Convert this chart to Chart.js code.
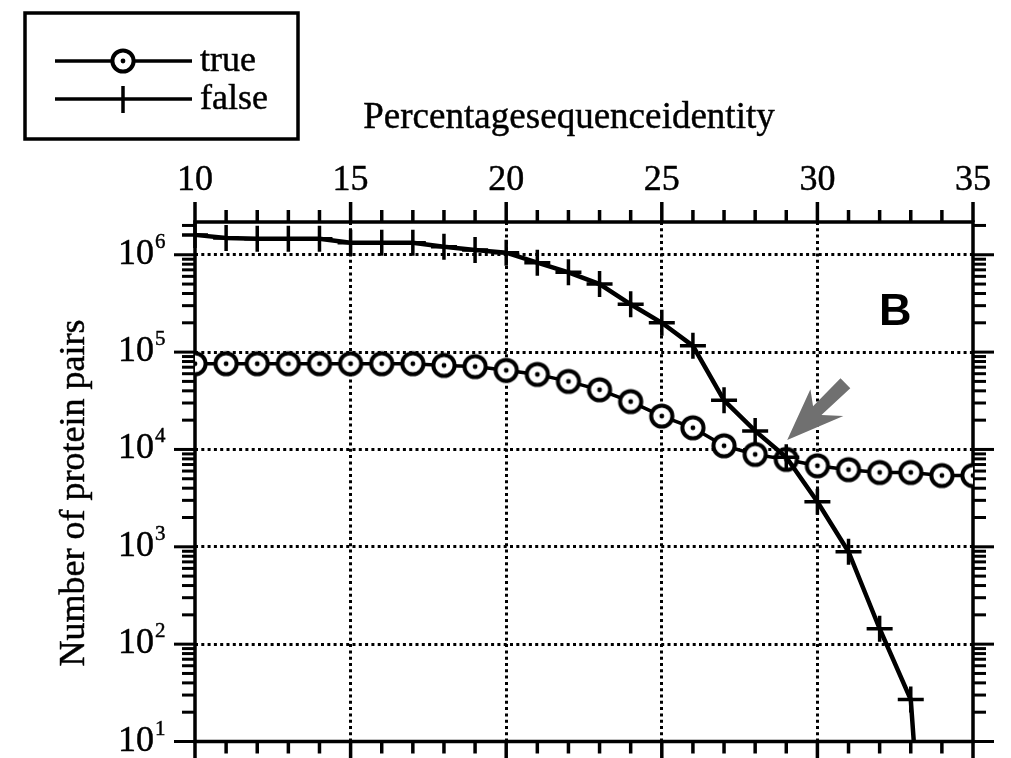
<!DOCTYPE html>
<html><head><meta charset="utf-8">
<script src="https://cdn.jsdelivr.net/npm/chart.js@4.4.1/dist/chart.umd.min.js"></script>
<style>html,body{margin:0;padding:0;background:#fff}canvas{display:block}</style>
</head><body>
<canvas id="c" width="1011" height="758"></canvas>
<script>
// ---- data ----
const identity    = [10,11,12,13,14,15,16,17,18,19,20,21,22,23,24,25,26,27,28,29,30,31,32,33,34,35];
const trueCounts  = [76000,76000,76000,76000,76000,76000,76000,76000,73000,71000,65000,59000,50000,41000,31000,22000,16700,10900,8900,7900,6800,6200,5800,5800,5400,5400];
const falseCounts = [1600000,1490000,1460000,1460000,1460000,1330000,1330000,1330000,1210000,1120000,1050000,830000,660000,500000,310000,200000,116000,32000,15500,8300,2900,890,144,27,0.001,null];
const seriesNames = ['true','false'];
const xMajorTicks = [10,15,20,25,30,35];
const xMinorTicks = [11,12,13,14,16,17,18,19,21,22,23,24,26,27,28,29,31,32,33,34];
const yDecades    = [10,100,1000,10000,100000,1000000];
const yExponents  = ['1','2','3','4','5','6'];
const xTitle = 'Percentage sequence identity';
const yTitle = 'Number of protein pairs';
const panelLabel = 'B';
const X_MIN = 10, X_MAX = 35, Y_MIN = 10, Y_MAX = 2170000;

const SERIF = '"Liberation Serif", "Times New Roman", serif';

function makeCircleMarker(){
  const s = 32, c = document.createElement('canvas');
  c.width = s; c.height = s;
  const g = c.getContext('2d');
  g.beginPath(); g.arc(s/2, s/2, 10.6, 0, Math.PI*2);
  g.fillStyle = '#fff'; g.fill();
  g.lineWidth = 4; g.strokeStyle = '#000'; g.stroke();
  g.beginPath(); g.arc(s/2, s/2, 2.4, 0, Math.PI*2);
  g.fillStyle = '#000'; g.fill();
  return c;
}
const circleMarker = makeCircleMarker();

function isDecade(v){ const l = Math.log10(v); return Math.abs(l - Math.round(l)) < 1e-9; }

function boldText(ctx, txt, x, y){
  ctx.fillText(txt, x, y);
  ctx.lineWidth = 0.45; ctx.strokeStyle = '#000';
  ctx.strokeText(txt, x, y);
}

const decor = {
  id: 'decor',
  beforeDatasetsDraw(chart){
    const {ctx, chartArea: a, scales: {x, y}} = chart;
    ctx.save();
    ctx.strokeStyle = '#000'; ctx.lineWidth = 3.5; ctx.lineCap = 'butt';
    ctx.strokeRect(a.left, a.top, a.right - a.left, a.bottom - a.top);
    const tick = (x1,y1,x2,y2)=>{ ctx.beginPath(); ctx.moveTo(x1,y1); ctx.lineTo(x2,y2); ctx.stroke(); };
    ctx.lineWidth = 3.5;
    xMajorTicks.forEach(v=>{ const p = x.getPixelForValue(v); tick(p,a.top,p,a.top-20); tick(p,a.bottom,p,a.bottom+20); });
    xMinorTicks.forEach(v=>{ const p = x.getPixelForValue(v); tick(p,a.top,p,a.top-12); tick(p,a.bottom,p,a.bottom+12); });
    ctx.lineWidth = 3;
    yDecades.forEach(d=>{
      const p = y.getPixelForValue(d);
      tick(a.left,p,a.left-21,p); tick(a.right,p,a.right+21,p);
      for (let k=2;k<=9;k++){
        const v = k*d; if (v > Y_MAX) break;
        const q = y.getPixelForValue(v);
        tick(a.left,q,a.left-13,q); tick(a.right,q,a.right+13,q);
      }
    });
    ctx.restore();
  },
  afterDraw(chart){
    const {ctx, chartArea: a, scales: {x, y}} = chart;
    ctx.save();
    ctx.fillStyle = '#000';
    // y tick labels with superscripts
    yDecades.forEach((d,i)=>{
      const p = y.getPixelForValue(d);
      ctx.font = '36px ' + SERIF; ctx.textAlign = 'left'; ctx.textBaseline = 'alphabetic';
      boldText(ctx, '10', 118, p + 9);
      ctx.font = '21px ' + SERIF;
      boldText(ctx, yExponents[i], 155, p - 7);
    });
    // x title
    ctx.font = '37px ' + SERIF; ctx.textAlign = 'center';
    if ('wordSpacing' in ctx) ctx.wordSpacing = '-9px';
    boldText(ctx, xTitle, 569, 128);
    if ('wordSpacing' in ctx) ctx.wordSpacing = '0px';
    // y title
    ctx.save();
    ctx.translate(84, 493); ctx.rotate(-Math.PI/2);
    ctx.font = '36px ' + SERIF; ctx.textAlign = 'center';
    boldText(ctx, yTitle, 0, 0);
    ctx.restore();
    // panel label
    ctx.font = 'bold 45px "Liberation Sans", Arial, sans-serif'; ctx.textAlign = 'left';
    ctx.fillText(panelLabel, a.right - 94, a.top + 103);
    // arrow annotation (pointing at the crossing)
    const tip  = {x: x.getPixelForValue(29.03), y: y.getPixelForValue(12500)};
    const tail = {x: x.getPixelForValue(30.9), y: y.getPixelForValue(48000)};
    let ux = tail.x - tip.x, uy = tail.y - tip.y; const L = Math.hypot(ux,uy); ux/=L; uy/=L;
    const nx = -uy, ny = ux;
    const P = (al, pe) => [tip.x + ux*al + nx*pe, tip.y + uy*al + ny*pe];
    ctx.fillStyle = '#707070';
    ctx.beginPath();
    ctx.moveTo(tip.x, tip.y);
    ctx.lineTo(...P(57, 22));
    ctx.lineTo(...P(42, 6));
    ctx.lineTo(...P(L, 7));
    ctx.lineTo(...P(L, -7));
    ctx.lineTo(...P(42, -6));
    ctx.lineTo(...P(52, -20));
    ctx.closePath(); ctx.fill();
    // legend box
    ctx.strokeStyle = '#000'; ctx.lineWidth = 3.5;
    ctx.strokeRect(25, 13, 273, 126);
    ctx.beginPath(); ctx.moveTo(55, 61); ctx.lineTo(192, 61); ctx.stroke();
    ctx.beginPath(); ctx.moveTo(55, 99); ctx.lineTo(192, 99); ctx.stroke();
    ctx.beginPath(); ctx.moveTo(123, 86); ctx.lineTo(123, 113); ctx.stroke();
    ctx.drawImage(circleMarker, 123 - circleMarker.width/2, 61 - circleMarker.height/2);
    ctx.fillStyle = '#000';
    ctx.font = '36px ' + SERIF; ctx.textAlign = 'left';
    boldText(ctx, seriesNames[0], 200, 71);
    boldText(ctx, seriesNames[1], 200, 109);
    ctx.restore();
  }
};

new Chart(document.getElementById('c'), {
  type: 'line',
  data: {
    datasets: [
      { label: seriesNames[1], order: 0,
        data: identity.map((v,i)=>({x: v, y: falseCounts[i]})),
        borderColor: '#000', borderWidth: 4.5, tension: 0, fill: false,
        pointStyle: 'cross', pointRadius: 13, pointBorderWidth: 3.5, pointBorderColor: '#000',
        clip: {left: 20, top: 20, right: 20, bottom: 0} },
      { label: seriesNames[0], order: 1,
        data: identity.map((v,i)=>({x: v, y: trueCounts[i]})),
        borderColor: '#000', borderWidth: 3.5, tension: 0, fill: false,
        pointStyle: circleMarker, pointRadius: 12, pointBorderWidth: 0 }
    ]
  },
  options: {
    responsive: false, animation: false, devicePixelRatio: 1,
    layout: { padding: { left: 0, top: 0, right: 33, bottom: 12 } },
    plugins: { legend: { display: false }, tooltip: { enabled: false } },
    scales: {
      x: {
        type: 'linear', position: 'top', min: X_MIN, max: X_MAX,
        afterFit: s => { s.height = 222; },
        ticks: { stepSize: 1, autoSkip: false, maxRotation: 0, padding: 20, color: '#000',
                 textStrokeColor: '#000', textStrokeWidth: 0.45,
                 font: { family: SERIF, size: 36, lineHeight: 1.2 },
                 callback: v => (v % 5 === 0 ? String(v) : '') },
        grid: { drawTicks: false, lineWidth: 3,
                color: c => (c.tick && [15,20,25,30].includes(c.tick.value)) ? '#000' : 'rgba(0,0,0,0)' },
        border: { display: false, dash: [3, 3.3] }
      },
      y: {
        type: 'logarithmic', position: 'left', min: Y_MIN, max: Y_MAX,
        afterFit: s => { s.width = 195; },
        ticks: { display: false },
        grid: { drawTicks: false, lineWidth: 3,
                color: c => (c.tick && isDecade(c.tick.value) && c.tick.value > Y_MIN) ? '#000' : 'rgba(0,0,0,0)' },
        border: { display: false, dash: [3, 3.3] }
      }
    }
  },
  plugins: [decor]
});
</script>
</body></html>
